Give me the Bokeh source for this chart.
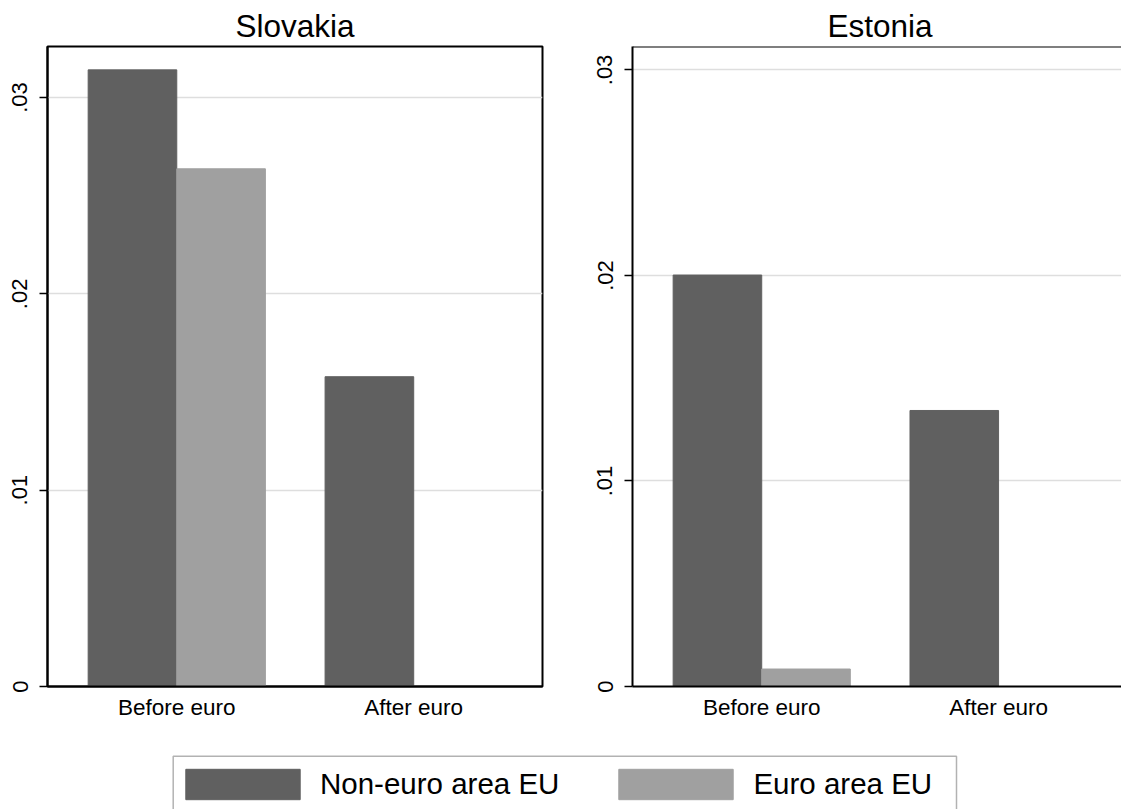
import numpy as np
from bokeh.plotting import figure
from bokeh.layouts import column, row
from bokeh.models import (FixedTicker, Range1d, Span, Legend, LegendItem, Title,
                          BoxAnnotation)
from bokeh.embed import file_html
from bokeh.resources import INLINE

# ---------------- data ----------------
categories = ["Before euro", "After euro"]
series_names = ["Non-euro area EU", "Euro area EU"]
slovakia_non_euro = [0.03141, 0.01578]
slovakia_euro = [0.02637, 0.0]
estonia_non_euro = [0.02002, 0.01343]
estonia_euro = [0.00085, 0.0]
y_ticks = [0, 0.01, 0.02, 0.03]
y_tick_labels = ["0", ".01", ".02", ".03"]

# ---------------- style ----------------
DARK = "#606060"
LIGHT = "#a0a0a0"
FONT = "Liberation Sans"
BAR_W = 0.374
FIG_H = 740


def make_panel(name, non_vals, eu_vals, width, b_left, b_right, x_end, y_end,
               full_box, title_align="center", title_offset=0):
    p = figure(width=width, height=FIG_H, output_backend="svg", toolbar_location=None,
               x_range=Range1d(-0.5456, x_end), y_range=Range1d(0, y_end),
               min_border_left=b_left, min_border_right=b_right,
               min_border_top=46, min_border_bottom=54)
    p.title = Title(text=name, align=title_align, offset=title_offset,
                    text_font=FONT, text_font_size="31.5px", text_font_style="normal",
                    text_color="black", standoff=6)
    idx = list(range(len(categories)))
    x_non = [i - BAR_W / 2 for i in idx]
    x_eu = [i + BAR_W / 2 for i in idx]
    p.vbar(x=x_non, top=non_vals, bottom=0, width=BAR_W, fill_color=DARK,
           line_color=DARK, line_width=1)
    p.vbar(x=x_eu, top=eu_vals, bottom=0, width=BAR_W, fill_color=LIGHT,
           line_color=LIGHT, line_width=1)

    # x axis
    xa = p.xaxis[0]
    xa.ticker = FixedTicker(ticks=idx)
    xa.major_label_overrides = {i: c for i, c in zip(idx, categories)}
    xa.major_tick_line_color = None
    xa.minor_tick_line_color = None
    xa.axis_line_width = 2
    xa.axis_line_color = "black"
    xa.major_label_text_font = FONT
    xa.major_label_text_font_size = "22.5px"
    xa.major_label_text_color = "black"
    xa.major_label_standoff = 2

    # y axis
    ya = p.yaxis[0]
    ya.ticker = FixedTicker(ticks=y_ticks)
    ya.major_label_overrides = {t: l for t, l in zip(y_ticks, y_tick_labels)}
    ya.major_label_orientation = "vertical"
    ya.major_tick_out = 8
    ya.major_tick_in = 0
    ya.major_tick_line_width = 1.5
    ya.major_tick_line_color = "black"
    ya.minor_tick_line_color = None
    ya.axis_line_width = 2
    ya.axis_line_color = "black"
    ya.major_label_text_font = FONT
    ya.major_label_text_font_size = "22px"
    ya.major_label_text_color = "black"
    ya.major_label_standoff = 12

    p.xgrid.grid_line_color = None
    p.ygrid.ticker = FixedTicker(ticks=y_ticks)
    p.ygrid.grid_line_color = "#dedede"
    p.ygrid.grid_line_width = 1.5

    if full_box:
        p.outline_line_color = "black"
        p.outline_line_width = 2
        p.outline_line_alpha = 1
    else:
        p.outline_line_color = None
        p.add_layout(Span(location=y_end, dimension="width", line_color="black",
                          line_width=2))
    p.background_fill_color = "white"
    p.border_fill_color = "white"
    return p


p1 = make_panel("Slovakia", slovakia_non_euro, slovakia_euro, 587, 47, 45,
                1.5436, 0.0326, True)
p2 = make_panel("Estonia", estonia_non_euro, estonia_euro, 534, 45, 0,
                1.519, 0.03114, False, title_align="left", title_offset=195)

# ---------------- legend strip ----------------
LEG_W, LEG_H = 1121, 69
p3 = figure(width=LEG_W, height=LEG_H, output_backend="svg", toolbar_location=None,
            x_range=Range1d(0, LEG_W), y_range=Range1d(LEG_H, 0),
            min_border_left=0, min_border_right=0, min_border_top=0, min_border_bottom=0)
p3.axis.visible = False
p3.grid.visible = False
p3.outline_line_color = None
# legend box (its lower edge falls below the visible area, as in the original)
p3.add_layout(BoxAnnotation(left=172.7, right=956, top=15.7, bottom=LEG_H + 40,
                            fill_alpha=0, line_color="black", line_width=1.5))
# legend proxies: no drawable data, only their styles are used by the legend
nan = np.array([np.nan])
r_non = p3.vbar(x=nan, top=nan, bottom=nan, width=1, fill_color=DARK,
                line_color=DARK)
r_eu = p3.vbar(x=nan, top=nan, bottom=nan, width=1, fill_color=LIGHT,
               line_color=LIGHT)
legend = Legend(items=[LegendItem(label=series_names[0], renderers=[r_non]),
                       LegendItem(label=series_names[1], renderers=[r_eu])],
                orientation="horizontal", location=(171, 6),
                glyph_width=143, glyph_height=38, label_height=38,
                label_standoff=6, spacing=45, padding=0, margin=0,
                label_text_font=FONT, label_text_font_size="29.5px",
                label_text_color="black",
                border_line_color=None, background_fill_alpha=0)
p3.add_layout(legend)

layout = column(row(p1, p2), p3)
open("out.html", "w").write(file_html(layout, INLINE))
